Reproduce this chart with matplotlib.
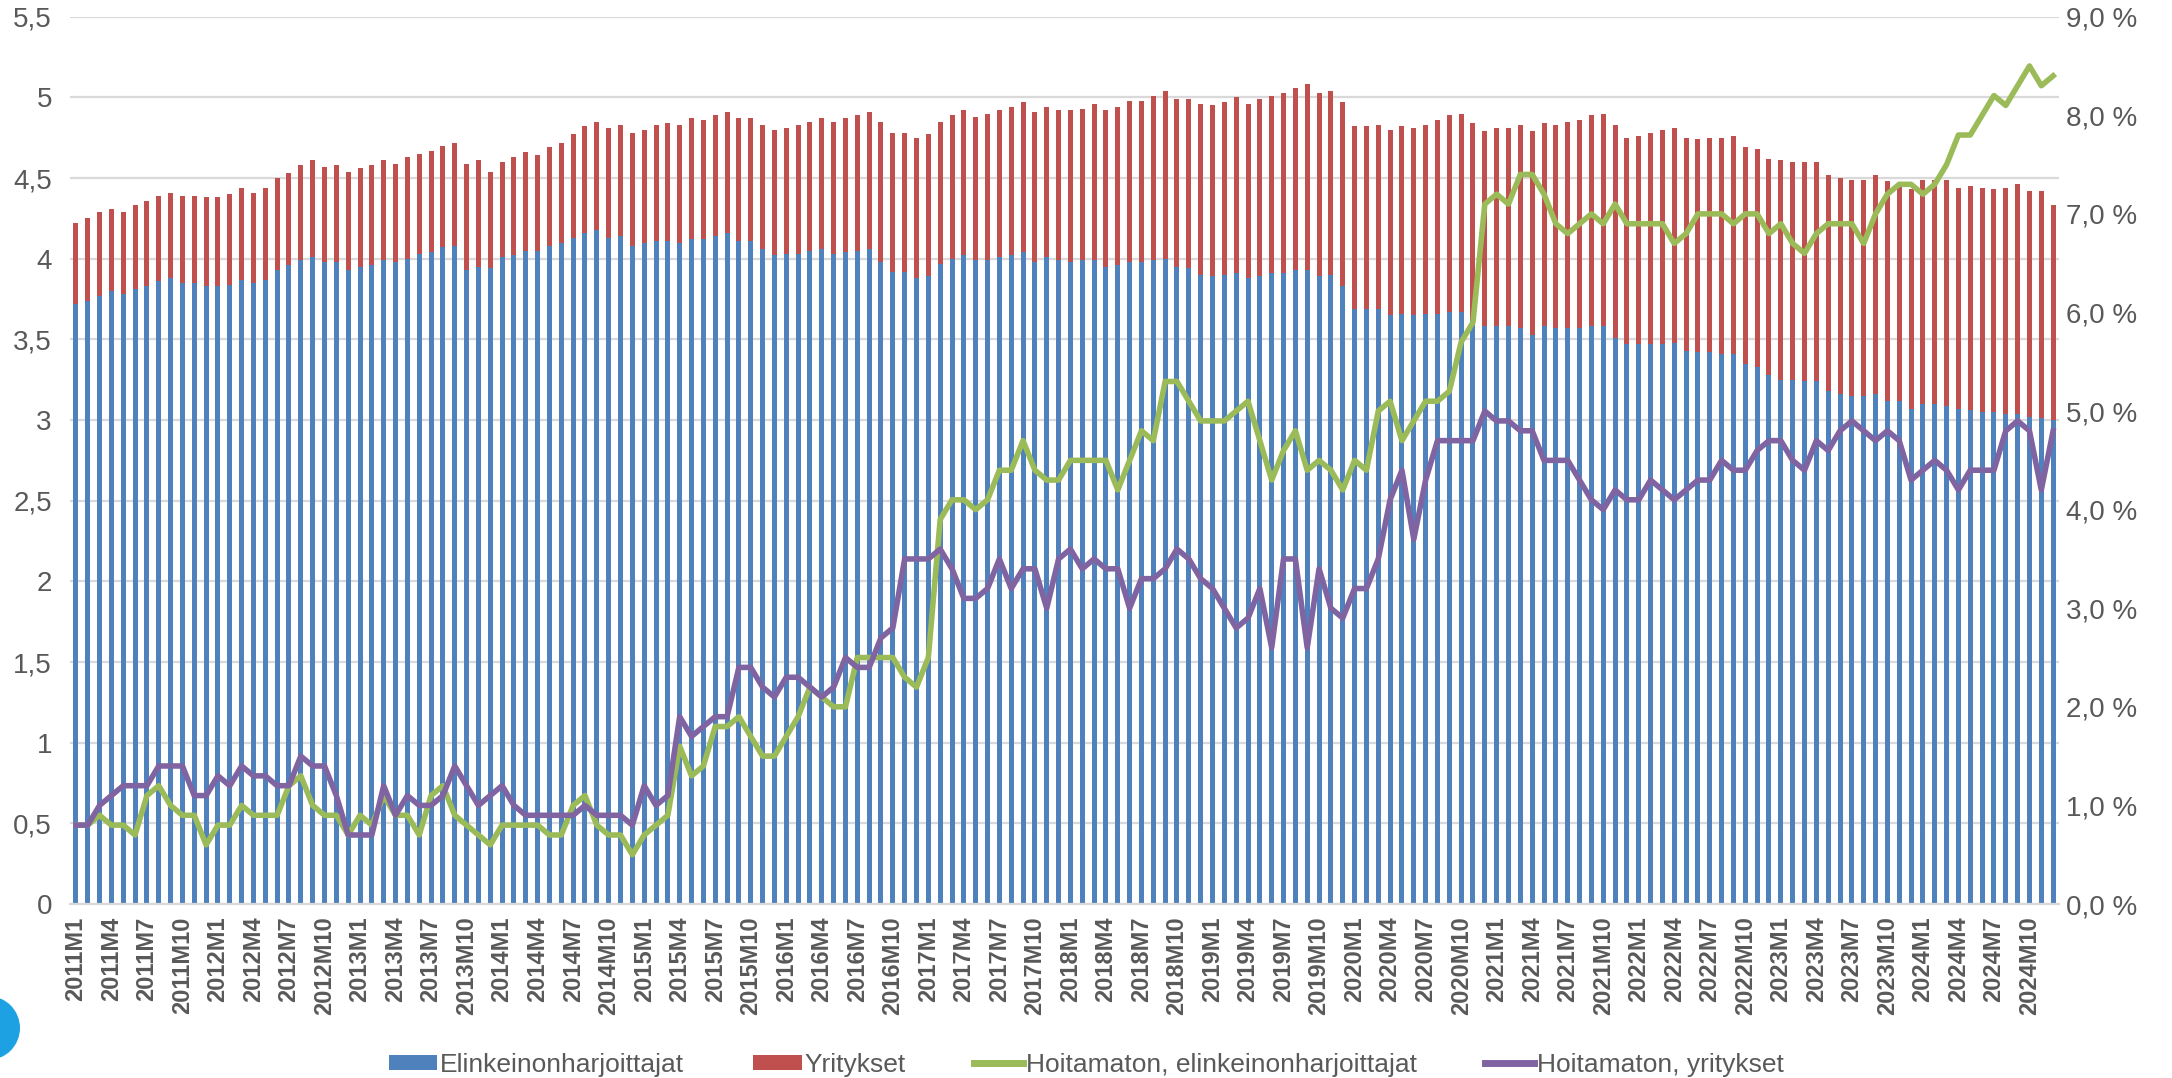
import matplotlib
matplotlib.use("Agg")
import matplotlib.pyplot as plt
from matplotlib.patches import Patch, Circle
from matplotlib.lines import Line2D
from matplotlib.ticker import FuncFormatter

plt.rcParams["font.family"] = ["Liberation Sans", "DejaVu Sans"]

# ==========================================================
# Data (2011M1 ... 2024M12)

months = [f"{y}M{m}" for y in range(2011, 2025) for m in range(1, 13)]

elinkeino = [
    3.72, 3.74, 3.77, 3.80, 3.78, 3.81, 3.83, 3.86, 3.88, 3.85, 3.85, 3.83,
    3.83, 3.84, 3.87, 3.85, 3.87, 3.93, 3.96, 3.99, 4.01, 3.98, 3.98, 3.93,
    3.95, 3.96, 3.99, 3.98, 4.00, 4.03, 4.04, 4.07, 4.08, 3.93, 3.95, 3.94,
    4.01, 4.02, 4.05, 4.05, 4.08, 4.10, 4.13, 4.16, 4.18, 4.13, 4.14, 4.08,
    4.10, 4.11, 4.11, 4.10, 4.12, 4.12, 4.14, 4.16, 4.11, 4.11, 4.06, 4.02,
    4.03, 4.03, 4.05, 4.06, 4.03, 4.04, 4.05, 4.06, 3.98, 3.92, 3.92, 3.88,
    3.89, 3.97, 4.00, 4.02, 3.99, 3.99, 4.01, 4.02, 4.04, 3.98, 4.01, 3.99,
    3.98, 3.99, 3.99, 3.95, 3.96, 3.98, 3.98, 3.99, 4.00, 3.95, 3.94, 3.90,
    3.89, 3.90, 3.91, 3.88, 3.89, 3.91, 3.91, 3.93, 3.93, 3.89, 3.90, 3.83,
    3.69, 3.69, 3.69, 3.65, 3.66, 3.65, 3.66, 3.66, 3.67, 3.67, 3.62, 3.58,
    3.58, 3.58, 3.57, 3.53, 3.58, 3.57, 3.57, 3.57, 3.58, 3.58, 3.51, 3.47,
    3.47, 3.47, 3.47, 3.48, 3.43, 3.42, 3.42, 3.41, 3.41, 3.35, 3.33, 3.28,
    3.25, 3.25, 3.24, 3.24, 3.18, 3.16, 3.15, 3.15, 3.16, 3.12, 3.12, 3.07,
    3.10, 3.10, 3.09, 3.07, 3.06, 3.05, 3.05, 3.04, 3.04, 3.02, 3.01, 3.00]

yritykset = [
    0.50, 0.51, 0.52, 0.51, 0.51, 0.52, 0.53, 0.53, 0.53, 0.54, 0.54, 0.55,
    0.55, 0.56, 0.57, 0.56, 0.57, 0.57, 0.57, 0.59, 0.60, 0.59, 0.60, 0.61,
    0.61, 0.62, 0.62, 0.61, 0.63, 0.62, 0.63, 0.63, 0.64, 0.66, 0.66, 0.60,
    0.59, 0.61, 0.61, 0.59, 0.61, 0.62, 0.64, 0.66, 0.67, 0.68, 0.69, 0.70,
    0.70, 0.72, 0.73, 0.73, 0.75, 0.74, 0.75, 0.75, 0.76, 0.76, 0.77, 0.78,
    0.78, 0.80, 0.80, 0.81, 0.82, 0.83, 0.84, 0.85, 0.87, 0.86, 0.86, 0.87,
    0.88, 0.88, 0.89, 0.90, 0.89, 0.91, 0.91, 0.92, 0.93, 0.93, 0.93, 0.93,
    0.94, 0.94, 0.97, 0.97, 0.98, 1.00, 1.00, 1.02, 1.04, 1.04, 1.05, 1.06,
    1.06, 1.07, 1.09, 1.08, 1.10, 1.10, 1.12, 1.13, 1.15, 1.14, 1.14, 1.14,
    1.13, 1.13, 1.14, 1.15, 1.16, 1.16, 1.17, 1.20, 1.22, 1.23, 1.22, 1.21,
    1.23, 1.23, 1.26, 1.26, 1.26, 1.26, 1.28, 1.29, 1.31, 1.32, 1.32, 1.28,
    1.29, 1.31, 1.33, 1.33, 1.32, 1.32, 1.33, 1.34, 1.35, 1.34, 1.35, 1.34,
    1.36, 1.35, 1.36, 1.36, 1.34, 1.34, 1.34, 1.34, 1.36, 1.36, 1.35, 1.36,
    1.39, 1.39, 1.40, 1.37, 1.39, 1.39, 1.38, 1.40, 1.42, 1.40, 1.41, 1.33]

# percent, right axis
hoitamaton_elinkeino = [
    0.8, 0.8, 0.9, 0.8, 0.8, 0.7, 1.1, 1.2, 1.0, 0.9, 0.9, 0.6,
    0.8, 0.8, 1.0, 0.9, 0.9, 0.9, 1.2, 1.3, 1.0, 0.9, 0.9, 0.7,
    0.9, 0.8, 1.1, 0.9, 0.9, 0.7, 1.1, 1.2, 0.9, 0.8, 0.7, 0.6,
    0.8, 0.8, 0.8, 0.8, 0.7, 0.7, 1.0, 1.1, 0.8, 0.7, 0.7, 0.5,
    0.7, 0.8, 0.9, 1.6, 1.3, 1.4, 1.8, 1.8, 1.9, 1.7, 1.5, 1.5,
    1.7, 1.9, 2.2, 2.1, 2.0, 2.0, 2.5, 2.5, 2.5, 2.5, 2.3, 2.2,
    2.5, 3.9, 4.1, 4.1, 4.0, 4.1, 4.4, 4.4, 4.7, 4.4, 4.3, 4.3,
    4.5, 4.5, 4.5, 4.5, 4.2, 4.5, 4.8, 4.7, 5.3, 5.3, 5.1, 4.9,
    4.9, 4.9, 5.0, 5.1, 4.7, 4.3, 4.6, 4.8, 4.4, 4.5, 4.4, 4.2,
    4.5, 4.4, 5.0, 5.1, 4.7, 4.9, 5.1, 5.1, 5.2, 5.7, 5.9, 7.1,
    7.2, 7.1, 7.4, 7.4, 7.2, 6.9, 6.8, 6.9, 7.0, 6.9, 7.1, 6.9,
    6.9, 6.9, 6.9, 6.7, 6.8, 7.0, 7.0, 7.0, 6.9, 7.0, 7.0, 6.8,
    6.9, 6.7, 6.6, 6.8, 6.9, 6.9, 6.9, 6.7, 7.0, 7.2, 7.3, 7.3,
    7.2, 7.3, 7.5, 7.8, 7.8, 8.0, 8.2, 8.1, 8.3, 8.5, 8.3, 8.4]

hoitamaton_yritykset = [
    0.8, 0.8, 1.0, 1.1, 1.2, 1.2, 1.2, 1.4, 1.4, 1.4, 1.1, 1.1,
    1.3, 1.2, 1.4, 1.3, 1.3, 1.2, 1.2, 1.5, 1.4, 1.4, 1.1, 0.7,
    0.7, 0.7, 1.2, 0.9, 1.1, 1.0, 1.0, 1.1, 1.4, 1.2, 1.0, 1.1,
    1.2, 1.0, 0.9, 0.9, 0.9, 0.9, 0.9, 1.0, 0.9, 0.9, 0.9, 0.8,
    1.2, 1.0, 1.1, 1.9, 1.7, 1.8, 1.9, 1.9, 2.4, 2.4, 2.2, 2.1,
    2.3, 2.3, 2.2, 2.1, 2.2, 2.5, 2.4, 2.4, 2.7, 2.8, 3.5, 3.5,
    3.5, 3.6, 3.4, 3.1, 3.1, 3.2, 3.5, 3.2, 3.4, 3.4, 3.0, 3.5,
    3.6, 3.4, 3.5, 3.4, 3.4, 3.0, 3.3, 3.3, 3.4, 3.6, 3.5, 3.3,
    3.2, 3.0, 2.8, 2.9, 3.2, 2.6, 3.5, 3.5, 2.6, 3.4, 3.0, 2.9,
    3.2, 3.2, 3.5, 4.1, 4.4, 3.7, 4.3, 4.7, 4.7, 4.7, 4.7, 5.0,
    4.9, 4.9, 4.8, 4.8, 4.5, 4.5, 4.5, 4.3, 4.1, 4.0, 4.2, 4.1,
    4.1, 4.3, 4.2, 4.1, 4.2, 4.3, 4.3, 4.5, 4.4, 4.4, 4.6, 4.7,
    4.7, 4.5, 4.4, 4.7, 4.6, 4.8, 4.9, 4.8, 4.7, 4.8, 4.7, 4.3,
    4.4, 4.5, 4.4, 4.2, 4.4, 4.4, 4.4, 4.8, 4.9, 4.8, 4.2, 4.8]

left_ticks = [0, 0.5, 1, 1.5, 2, 2.5, 3, 3.5, 4, 4.5, 5, 5.5]
right_ticks = [0, 1, 2, 3, 4, 5, 6, 7, 8, 9]

# ==========================================================
# Figure

BLUE = "#4F81BD"
RED = "#C0504D"
GREEN = "#9BBB59"
PURPLE = "#8064A2"
TEXT = "#595959"
GRID = "#D9D9D9"

fig = plt.figure(figsize=(21.72, 10.78), dpi=100)
ax = fig.add_axes([0.0322, 0.1614, 0.9158, 0.8231])

x = list(range(len(months)))

ax.bar(x, elinkeino, width=0.42, color=BLUE, zorder=2)
ax.bar(x, yritykset, width=0.42, bottom=elinkeino, color=RED, zorder=2)

ax.set_xlim(-0.5, len(months) - 0.5)
ax.set_ylim(0, 5.5)
ax.set_yticks(left_ticks)
ax.yaxis.set_major_formatter(
    FuncFormatter(lambda v, _: f"{v:g}".replace(".", ",")))
ax.yaxis.grid(True, color=GRID, linewidth=1.6)
ax.set_axisbelow(True)

ax.set_xticks(x[::3])
ax.set_xticklabels(months[::3], rotation=90, fontweight="bold",
                   fontsize=17, color=TEXT)
ax.tick_params(axis="x", length=0, pad=9)
ax.tick_params(axis="y", length=0, pad=13, labelsize=20, labelcolor=TEXT)

for side in ["top", "right", "left"]:
    ax.spines[side].set_visible(False)
ax.spines["bottom"].set_color(GRID)
ax.spines["bottom"].set_linewidth(1.6)

# ----------------------------
# secondary axis, percent
ax2 = ax.twinx()
ax2.plot(x, hoitamaton_elinkeino, color=GREEN, linewidth=4.0,
         solid_joinstyle="round", zorder=3)
ax2.plot(x, hoitamaton_yritykset, color=PURPLE, linewidth=4.0,
         solid_joinstyle="round", zorder=3)
ax2.set_ylim(0, 9)
ax2.set_yticks(right_ticks)
ax2.yaxis.set_major_formatter(
    FuncFormatter(lambda v, _: f"{v:.1f} %".replace(".", ",")))
ax2.tick_params(axis="y", length=0, pad=5, labelsize=20, labelcolor=TEXT)
for side in ["top", "right", "left", "bottom"]:
    ax2.spines[side].set_visible(False)

# ----------------------------
# legend
handles = [
    Patch(facecolor=BLUE, label="Elinkeinonharjoittajat"),
    Patch(facecolor=RED, label="Yritykset"),
    Line2D([0], [0], color=GREEN, linewidth=5,
           label="Hoitamaton, elinkeinonharjoittajat"),
    Line2D([0], [0], color=PURPLE, linewidth=5,
           label="Hoitamaton, yritykset"),
]
fig.legend(handles=handles, loc="lower center", bbox_to_anchor=(0.5, -0.021),
           ncol=4, frameon=False, fontsize=19, labelcolor=TEXT,
           handlelength=1.85, handleheight=0.5, handletextpad=0.1,
           columnspacing=2.6)

# cut-off logo at the lower left corner
fig.patches.append(Circle((-12, 50), 32, transform=None,
                          facecolor="#1DA1E2", edgecolor="none"))

fig.savefig("out.png", dpi=100)
